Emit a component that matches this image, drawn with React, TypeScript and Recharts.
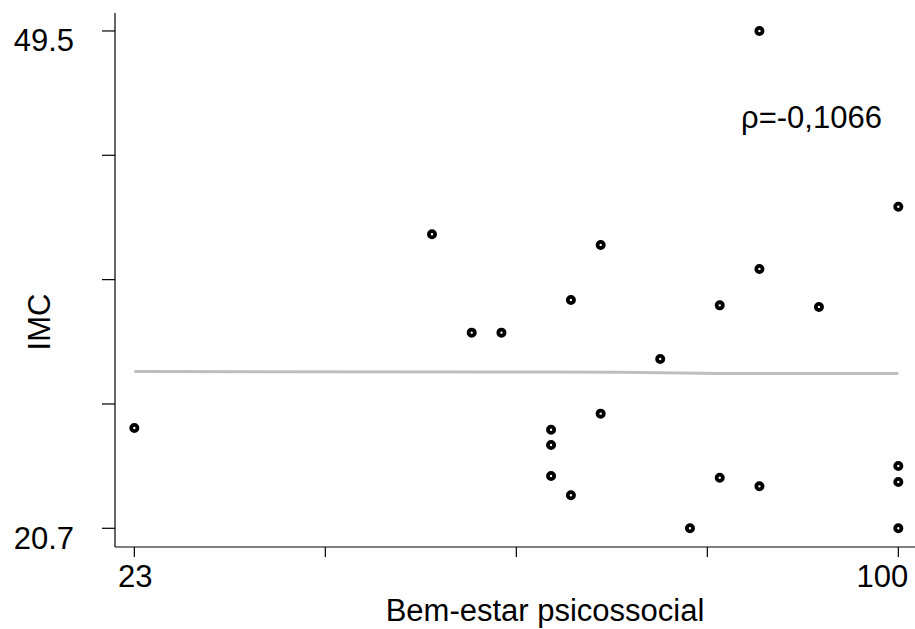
import React from "react";
import {
  ComposedChart,
  Scatter,
  Line,
  XAxis,
  YAxis,
} from "recharts";

const bemEstar = [23, 53, 57, 60, 65, 65, 65, 67, 67, 70, 70, 76, 79, 82, 82, 86, 86, 86, 92, 100, 100, 100, 100];
const imc = [26.51, 37.73, 32.03, 32.03, 26.41, 25.52, 23.73, 33.92, 22.61, 37.11, 27.34, 30.5, 20.7, 33.61, 23.63, 49.5, 35.72, 23.13, 33.52, 39.32, 24.31, 23.38, 20.7];

// smoothed trend (grey line)
const trendX = [23, 65, 72, 82, 100];
const trendY = [29.78, 29.75, 29.74, 29.67, 29.66];

const xTicks = [23, 42.25, 61.5, 80.75, 100];
const xTickLabels = ["23", "", "", "", "100"];
const yTicks = [20.7, 27.9, 35.1, 42.3, 49.5];
const yTickLabels = ["20.7", "", "", "", "49.5"];

const xTitle = "Bem-estar psicossocial";
const yTitle = "IMC";
const rhoText = "ρ=-0,1066";

const FONT = "'Liberation Sans', Arial, sans-serif";
const FS = 31;

const points = bemEstar.map((x, i) => ({ x, y: imc[i] }));
const trend = trendX.map((x, i) => ({ x, y: trendY[i] }));

const renderDot = (props: any) => {
  const { cx, cy } = props;
  if (cx == null || cy == null) return <g />;
  return <circle cx={cx} cy={cy} r={3.1} fill="#fff" stroke="#000" strokeWidth={3.8} />;
};

const XTick = (props: any) => {
  const { x, y, payload } = props;
  const i = xTicks.indexOf(payload.value);
  const label = i >= 0 ? xTickLabels[i] : "";
  if (!label) return null;
  const last = i === xTicks.length - 1;
  return (
    <text
      x={last ? x + 10 : x + 1}
      y={y + 30}
      textAnchor={last ? "end" : "middle"}
      fontFamily={FONT}
      fontSize={FS}
      fill="#000"
    >
      {label}
    </text>
  );
};

const YTick = (props: any) => {
  const { x, y, payload } = props;
  const i = yTicks.indexOf(payload.value);
  const label = i >= 0 ? yTickLabels[i] : "";
  if (!label) return null;
  return (
    <text x={x} y={y + 20.5} textAnchor="end" fontFamily={FONT} fontSize={FS} fill="#000">
      {label}
    </text>
  );
};

export default function App() {
  return (
    <div style={{ position: "absolute", left: 0, top: 0, background: "#fff" }}>
      <ComposedChart
        width={915}
        height={629}
        margin={{ top: 13, right: 0, bottom: 0, left: 0 }}
      >
        <XAxis
          type="number"
          dataKey="x"
          domain={[21.05, 101.68]}
          ticks={xTicks}
          allowDataOverflow
          height={82}
          tickSize={10}
          tickMargin={0}
          axisLine={{ stroke: "#000", strokeWidth: 1.2 }}
          tickLine={{ stroke: "#000", strokeWidth: 1.2 }}
          tick={<XTick />}
          label={(p: any) => (
            <text
              x={545}
              y={621}
              textAnchor="middle"
              fontFamily={FONT}
              fontSize={FS}
              fill="#000"
            >
              {xTitle}
            </text>
          )}
        />
        <YAxis
          type="number"
          dataKey="y"
          domain={[19.617, 50.54]}
          ticks={yTicks}
          allowDataOverflow
          width={115}
          tickSize={13}
          tickMargin={28}
          axisLine={{ stroke: "#000", strokeWidth: 1.2 }}
          tickLine={{ stroke: "#000", strokeWidth: 1.2 }}
          tick={<YTick />}
          label={(p: any) => (
            <text
              x={50}
              y={322}
              transform="rotate(-90, 50, 322)"
              textAnchor="middle"
              fontFamily={FONT}
              fontSize={FS}
              fill="#000"
            >
              {yTitle}
            </text>
          )}
        />
        <Line
          data={trend}
          dataKey="y"
          type="linear"
          stroke="#bebebe"
          strokeWidth={3}
          dot={false}
          activeDot={false}
          isAnimationActive={false}
        />
        <Scatter data={points} dataKey="y" shape={renderDot} isAnimationActive={false} />
        <text x={741} y={128} fontFamily={FONT} fontSize={FS} fill="#000">
          {rhoText}
        </text>
      </ComposedChart>
    </div>
  );
}
